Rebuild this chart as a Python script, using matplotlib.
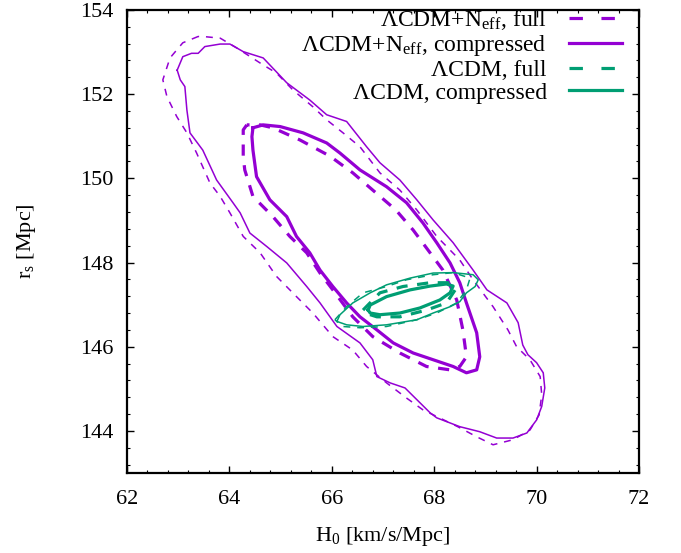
import numpy as np
import matplotlib.pyplot as plt
from matplotlib.lines import Line2D
from matplotlib.ticker import MultipleLocator

plt.rcParams['font.family'] = ['Liberation Serif', 'DejaVu Serif']
plt.rcParams['mathtext.fontset'] = 'custom'
plt.rcParams['mathtext.rm'] = 'Liberation Serif'
plt.rcParams['mathtext.it'] = 'Liberation Serif:italic'

# contour paths, (H0, r_s)
neff_full_95 = [(63.39, 153.37), (63.09, 153.22), (62.84, 152.86), (62.70, 152.34), (62.78, 151.94),
                (62.97, 151.47), (63.17, 151.08), (63.36, 150.60), (63.62, 149.89), (63.82, 149.57),
                (64.01, 149.18), (64.27, 148.62), (64.60, 148.23), (64.92, 147.67), (65.31, 147.19),
                (65.63, 146.80), (66.02, 146.24), (66.41, 145.92), (66.68, 145.53), (67.07, 145.14),
                (67.46, 144.78), (67.78, 144.50), (68.46, 144.10), (68.83, 143.86), (69.15, 143.67),
                (69.54, 143.79), (69.87, 144.02), (70.05, 144.38), (70.10, 144.86), (70.07, 145.29),
                (69.87, 145.69), (69.61, 146.00), (69.44, 146.40), (69.15, 146.95), (68.76, 147.59),
                (68.50, 148.06), (68.05, 148.62), (67.66, 149.25), (67.33, 149.72), (66.94, 150.13),
                (66.55, 150.75), (66.22, 151.08), (65.90, 151.39), (65.63, 151.70), (65.24, 152.10),
                (64.92, 152.50), (64.60, 152.74), (64.14, 153.10), (63.82, 153.33), (63.48, 153.37)]
neff_comp_95 = [(62.98, 152.57), (63.09, 152.89), (63.26, 152.97), (63.39, 152.97), (63.52, 153.13),
                (63.82, 153.19), (64.01, 153.19), (64.27, 153.01), (64.66, 152.86), (65.12, 152.27),
                (65.57, 151.86), (65.90, 151.51), (66.29, 151.35), (66.68, 150.75), (66.94, 150.37),
                (67.33, 149.96), (67.66, 149.49), (67.98, 149.01), (68.37, 148.47), (68.76, 147.82),
                (69.03, 147.35), (69.42, 147.04), (69.64, 146.57), (69.73, 146.04), (69.83, 145.81),
                (70.00, 145.62), (70.13, 145.38), (70.16, 145.02), (70.10, 144.58), (70.00, 144.26),
                (69.81, 143.95), (69.54, 143.83), (69.22, 143.83), (68.89, 143.98), (68.50, 144.10),
                (68.05, 144.31), (67.92, 144.43), (67.43, 145.02), (67.14, 145.14), (66.88, 145.29),
                (66.80, 145.69), (66.55, 146.09), (66.10, 146.48), (65.77, 147.04), (65.51, 147.43),
                (65.12, 147.99), (64.73, 148.38), (64.40, 148.70), (64.21, 149.18), (64.07, 149.42),
                (63.75, 149.96), (63.48, 150.67), (63.23, 151.08), (63.17, 151.62), (63.13, 152.18),
                (63.04, 152.34)]
neff_full_68 = [(64.34, 151.27), (64.27, 151.15), (64.27, 150.52), (64.30, 150.20), (64.46, 149.57),
                (64.85, 149.09), (65.18, 148.62), (65.51, 148.23), (65.77, 147.75), (66.02, 147.35),
                (66.41, 146.71), (66.80, 146.24), (67.33, 145.85), (67.85, 145.53), (68.31, 145.45),
                (68.50, 145.53), (68.63, 145.76), (68.56, 146.40), (68.44, 147.11), (68.17, 147.82),
                (67.92, 148.23), (67.59, 148.77), (67.25, 149.25), (66.80, 149.72), (66.41, 150.13),
                (65.96, 150.53), (65.38, 150.91), (64.85, 151.20), (64.60, 151.27)]
neff_comp_68 = [(64.46, 151.20), (64.44, 150.99), (64.46, 150.67), (64.53, 150.04), (64.79, 149.49),
                (65.12, 149.09), (65.31, 148.62), (65.57, 148.23), (65.77, 147.82), (66.02, 147.43),
                (66.29, 147.04), (66.55, 146.71), (66.88, 146.40), (67.20, 146.09), (67.59, 145.85),
                (67.98, 145.69), (68.37, 145.53), (68.63, 145.38), (68.83, 145.45), (68.89, 145.76),
                (68.83, 146.33), (68.63, 147.04), (68.50, 147.52), (68.31, 147.99), (68.05, 148.47),
                (67.78, 148.94), (67.46, 149.42), (67.07, 149.80), (66.55, 150.20), (66.16, 150.60),
                (65.90, 150.84), (65.44, 151.08), (64.99, 151.23), (64.66, 151.27)]
lcdm_full_95 = [(66.06, 146.64), (66.29, 146.95), (66.61, 147.28), (67.07, 147.43), (67.46, 147.59),
                (67.98, 147.71), (68.37, 147.76), (68.70, 147.63), (68.63, 147.35), (68.44, 147.04),
                (68.05, 146.80), (67.66, 146.64), (67.07, 146.48), (66.55, 146.45), (66.22, 146.48)]
lcdm_comp_95 = [(66.10, 146.60), (66.16, 146.76), (66.41, 147.04), (66.75, 147.28), (67.07, 147.47),
                (67.53, 147.63), (67.98, 147.75), (68.37, 147.76), (68.76, 147.71), (68.86, 147.59),
                (68.80, 147.43), (68.63, 147.28), (68.50, 147.07), (68.31, 146.95), (67.98, 146.80),
                (67.66, 146.64), (67.07, 146.52), (66.61, 146.48), (66.29, 146.52)]
lcdm_full_68 = [(66.61, 146.87), (66.94, 147.28), (67.39, 147.43), (67.92, 147.52), (68.27, 147.52),
                (68.41, 147.35), (68.24, 147.04), (67.85, 146.87), (67.33, 146.71), (66.88, 146.71),
                (66.65, 146.80)]
lcdm_comp_68 = [(66.71, 146.87), (66.75, 146.99), (67.07, 147.19), (67.53, 147.35), (67.92, 147.44),
                (68.24, 147.49), (68.37, 147.44), (68.31, 147.28), (68.11, 147.11), (67.72, 146.92),
                (67.33, 146.80), (66.94, 146.76), (66.75, 146.80)]

labels = [r'ΛCDM+N$_{\rm eff}$, full', r'ΛCDM+N$_{\rm eff}$, compressed',
          'ΛCDM, full', 'ΛCDM, compressed']
purple = '#9400d3'
green = '#009e73'

fig = plt.figure(figsize=(6.81, 5.53), dpi=100)
ax = fig.add_axes([0.1865, 0.1447, 0.7518, 0.8373])

thin, thick = 1.1, 2.3
thin_dash = (0, (4.5, 4.5))
thick_dash = (0, (3.5, 3.0))


def draw(path, color, lw, ls):
    p = np.array(path + path[:1])
    ax.plot(p[:, 0], p[:, 1], color=color, lw=lw, ls=ls)


draw(neff_full_95, purple, thin, thin_dash)
draw(neff_comp_95, purple, thin, '-')
draw(neff_full_68, purple, thick, thick_dash)
draw(neff_comp_68, purple, thick, '-')
draw(lcdm_full_95, green, thin, thin_dash)
draw(lcdm_comp_95, green, thin, '-')
draw(lcdm_full_68, green, thick, thick_dash)
draw(lcdm_comp_68, green, thick, '-')

handles = [Line2D([], [], color=purple, lw=thick, ls=(0, (4.2, 5.8))),
           Line2D([], [], color=purple, lw=thick),
           Line2D([], [], color=green, lw=thick, ls=(0, (4.2, 5.8))),
           Line2D([], [], color=green, lw=thick)]
ax.legend(handles, labels, loc='upper right', bbox_to_anchor=(1.0, 1.04),
          frameon=False, markerfirst=False, fontsize=17, handlelength=2.25,
          handletextpad=0.95, labelspacing=0.05, borderpad=0.2)

ax.set_xlim(62, 72)
ax.set_ylim(143, 154)
ax.xaxis.set_major_locator(MultipleLocator(2))
ax.xaxis.set_minor_locator(MultipleLocator(0.4))
ax.yaxis.set_major_locator(MultipleLocator(2))
ax.yaxis.set_minor_locator(MultipleLocator(0.4))
ax.tick_params(which='both', direction='in', top=True, right=True, labelsize=16)
ax.tick_params(which='major', length=5, width=1, pad=10)
ax.tick_params(axis='x', which='major', pad=12)
ax.tick_params(which='minor', length=2.5, width=0.8)
for s in ax.spines.values():
    s.set_linewidth(1.6)

ax.set_xlabel(r'H$_0$ [km/s/Mpc]', fontsize=16, labelpad=12)
ax.set_ylabel(r'r$_{\rm s}$ [Mpc]', fontsize=16, labelpad=30)

fig.savefig('out.png', dpi=100)
